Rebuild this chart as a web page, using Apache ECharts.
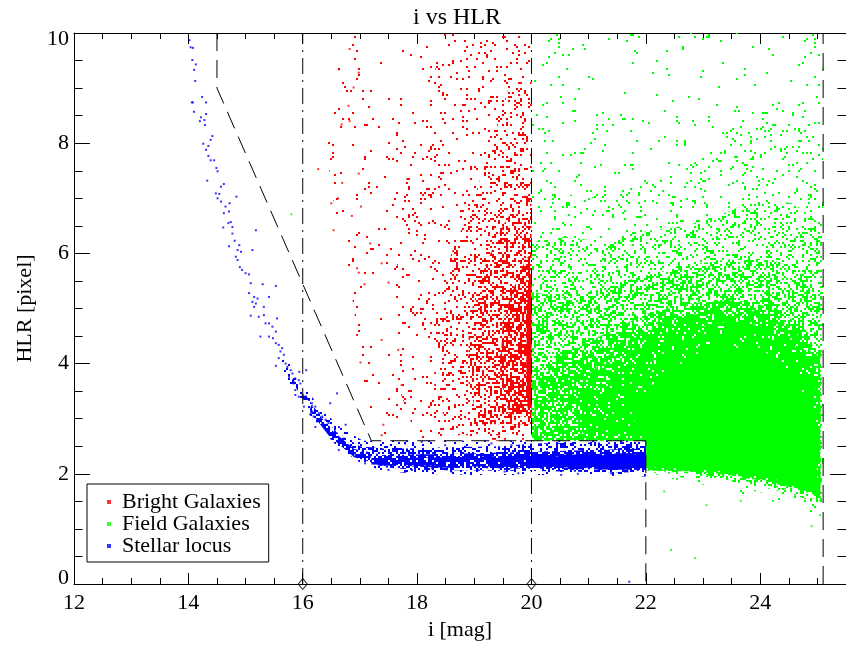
<!DOCTYPE html>
<html><head><meta charset="utf-8">
<script src="https://cdn.jsdelivr.net/npm/echarts@6/dist/echarts.min.js"></script>
<style>html,body{margin:0;padding:0;background:#fff}#c{width:846px;height:647px}</style>
</head><body><div id="c"></div><script>
// ---------- data ----------
const chartTitle = 'i vs HLR';
const xName = 'i [mag]';
const yName = 'HLR [pixel]';
const seriesNames = ['Bright Galaxies', 'Field Galaxies', 'Stellar locus'];
const seriesColors = ['#ff0000', '#00ff00', '#0000ff'];

// selection cuts
const stellarCut = [[14.5, 10], [14.5, 9], [17.2, 2.6], [22, 2.6], [22, 0]];
const faintCut = [[25.1, 0], [25.1, 10]];
const brightLimit16 = [[16, 0], [16, 10]];
const brightLimit20 = [[20, 0], [20, 10]];
const limitMarkers = [[16, 0], [20, 0]];

// density contour levels (fraction of area covered by points), outer -> inner
const brightLevels = [0.02, 0.06, 0.17, 0.38, 0.65, 1];
const brightContours = [
  [[17.3,2.6],[17.0,3.6],[16.9,5.0],[16.6,6.5],[16.4,8.0],[16.6,9.4],[16.9,10],[20,10],[20,2.6]],
  [[18.0,2.62],[17.7,3.5],[17.6,5.0],[17.7,6.5],[17.9,8.0],[18.3,9.3],[18.6,10],[20,10],[20,2.62]],
  [[18.6,2.7],[18.3,3.5],[18.3,4.8],[18.6,6.0],[19.0,7.0],[19.3,8.0],[19.6,9.0],[20,9.2],[20,2.7]],
  [[19.1,2.9],[18.9,3.6],[18.9,4.8],[19.2,5.8],[19.5,6.5],[19.8,7.0],[20,7.1],[20,2.9]],
  [[19.6,3.1],[19.45,3.8],[19.5,4.8],[19.7,5.4],[19.9,5.9],[20,6.0],[20,3.0]],
  [[19.93,3.2],[19.91,4.0],[19.92,5.0],[19.96,5.6],[20,5.6],[20,3.2]]
];
const fieldLevels = [0.02, 0.06, 0.2, 0.45, 0.72, 0.87, 0.95, 1];
const fieldContours = [
  [[20,2.6],[20,10],[25.1,10],[25.1,1.15],[24.7,1.35],[24.2,1.5],[23.6,1.65],[23,1.8],[22.5,1.9],[22,1.95],[22,2.6]],
  [[20,2.6],[20,7.2],[21,7.0],[22,7.3],[22.8,7.6],[23.5,8.3],[24.2,8.8],[24.8,8.6],[25.1,8.2],[25.1,1.3],[24.7,1.48],[24.2,1.62],[23.6,1.75],[23,1.88],[22.5,1.95],[22,2.0],[22,2.6]],
  [[20,2.6],[20,6.2],[20.6,6.3],[21.3,6.2],[22,6.4],[22.7,6.5],[23.3,6.7],[24,7.0],[24.6,6.9],[25.08,6.5],[25.08,1.42],[24.7,1.58],[24.2,1.72],[23.6,1.84],[23,1.95],[22.5,2.0],[22,2.03],[22,2.6]],
  [[20,2.6],[20,5.3],[20.6,5.2],[21.3,5.4],[22,5.6],[22.8,5.8],[23.5,5.9],[24.2,5.9],[24.8,5.6],[25.06,5.1],[25.06,1.5],[24.6,1.68],[24,1.82],[23.4,1.93],[22.8,2.0],[22.2,2.05],[22,2.06],[22,2.6]],
  [[20.05,2.6],[20.05,3.6],[20.5,4.1],[21.2,4.5],[22,4.9],[22.8,5.1],[23.6,5.15],[24.3,5.0],[24.8,4.6],[25.05,4.0],[25.05,1.58],[24.6,1.74],[24,1.88],[23.4,1.98],[22.8,2.04],[22,2.08],[22,2.6]],
  [[22,2.06],[22,2.6],[21.0,2.62],[20.7,3.0],[20.9,3.7],[21.5,4.3],[22.3,4.75],[23.1,4.95],[23.9,4.95],[24.5,4.7],[24.9,4.2],[25.05,3.5],[25.05,1.6],[24.6,1.75],[24,1.9],[23.4,1.99],[22.8,2.04]],
  [[22,2.08],[22,2.6],[21.3,2.65],[21.1,3.0],[21.3,3.6],[21.9,4.15],[22.6,4.55],[23.3,4.75],[24.0,4.7],[24.5,4.45],[24.9,3.9],[25.04,3.2],[25.05,1.62],[24.6,1.77],[24,1.91],[23.4,2.0],[22.8,2.05]],
  [[22,2.12],[22,2.6],[21.8,2.8],[21.8,3.3],[22.3,3.8],[22.9,4.15],[23.5,4.3],[24.1,4.2],[24.6,3.8],[24.9,3.1],[24.98,2.3],[25.0,1.7],[24.6,1.82],[24,1.96],[23.4,2.04],[22.8,2.09]]
];
const stellarLevels = [0.12, 0.4, 0.75, 0.92, 1];
const stellarContours = [
  [[15.65,4.2],[15.95,3.7],[16.3,3.2],[16.65,2.85],[17.05,2.6],[22,2.6],[22,1.95],[21,1.97],[20,1.98],[19,1.98],[18,2.0],[17.4,2.05],[17.0,2.2],[16.6,2.5],[16.2,2.95],[15.9,3.4],[15.55,4.0]],
  [[15.85,3.75],[16.2,3.2],[16.6,2.75],[17.0,2.5],[17.5,2.45],[18.5,2.48],[19.5,2.5],[20,2.55],[22,2.58],[22,2.02],[20,2.05],[18,2.07],[17.4,2.12],[16.9,2.35],[16.5,2.7],[16.1,3.2],[15.8,3.7]],
  [[16.15,3.25],[16.5,2.8],[16.9,2.45],[17.4,2.34],[18.5,2.36],[20,2.4],[22,2.46],[22,2.07],[20,2.09],[18.5,2.11],[17.4,2.15],[16.9,2.3],[16.45,2.7],[16.12,3.15]],
  [[17.2,2.28],[18.5,2.3],[20,2.33],[22,2.38],[22,2.1],[20,2.12],[18.5,2.14],[17.2,2.17]],
  [[19.9,2.3],[22,2.36],[22,2.12],[19.9,2.13]]
];

const stellarPoints = [
  [14.02,9.87],[14.04,9.74],[14.08,9.73],[14.07,9.51],[14.13,9.43],[14.10,9.33],[14.12,9.13],[14.24,8.84],
  [14.06,8.74],[14.08,8.74],[14.31,8.74],[14.10,8.57],[14.22,8.47],[14.28,8.42],[14.31,8.53],[14.20,8.40],
  [14.29,8.33],[14.42,8.13],[14.39,8.06],[14.26,7.99],[14.35,7.95],[14.31,7.88],[14.35,7.77],[14.39,7.69],
  [14.45,7.69],[14.49,7.55],[14.51,7.49],[14.33,7.32],[14.62,7.26],[14.57,7.21],[14.48,7.09],[14.54,7.08],
  [14.51,7.00],[14.57,6.94],[14.84,7.03],[14.72,6.91],[14.65,6.85],[14.71,6.76],[14.62,6.73],[14.74,6.57],
  [14.70,6.55],[14.77,6.48],[14.61,6.47],[14.77,6.36],[15.18,6.42],[14.81,6.23],[14.89,6.15],[14.86,6.06],
  [14.71,6.13],[15.12,6.06],[14.92,6.03],[14.83,5.94],[14.86,5.88],[14.90,5.75],[14.94,5.70],[15.00,5.64],
  [15.06,5.62],[15.09,5.46],[15.30,5.44],[15.53,5.41],[15.06,5.28],[15.15,5.21],[15.21,5.18],[15.18,5.09],
  [15.12,5.12],[15.15,5.03],[15.41,5.21],[15.32,5.03],[15.09,4.87],[15.23,4.85],[15.32,4.88],[15.35,4.73],
  [15.41,4.73],[15.26,4.49],[15.47,4.67],[15.53,4.58],[15.41,4.49],[15.55,4.82],[15.48,4.46],[15.53,4.37],
  [15.58,4.34],[15.64,4.28],[15.61,4.22],[15.67,4.16],[15.58,4.10],[15.70,4.00],[15.53,3.96],[15.73,3.94],
  [15.79,3.88],[15.82,3.82],[15.76,3.76],[15.87,3.73],[15.93,3.70],[15.84,3.64],[15.96,3.64],[15.87,3.52],
  [15.94,3.85],[16.06,3.88],[16.00,3.43],[16.05,3.40],[16.11,3.34],[16.16,3.28],[16.22,3.22],[16.14,3.10],
  [16.19,3.04],[16.28,3.10],[16.34,3.04],[16.40,2.98],[16.25,2.95],[16.22,2.85],[16.37,2.89],[16.45,2.92],
  [15.93,3.40],[16.02,3.22],[15.84,3.67],[15.87,3.43],[16.05,3.40],[16.17,3.13],[16.48,3.28],[16.60,3.46],
  [16.34,2.92],[16.51,2.73],[16.75,2.89],[16.72,2.64],[16.80,2.49],[17.04,2.40],[17.09,2.19],[17.33,2.13],
  [17.50,2.07],[17.91,2.07],[18.26,2.10],[18.60,2.04],[19.07,2.07],[19.53,2.04],[19.77,2.01],[20.52,1.98],
  [20.81,2.00],[21.39,2.01],[21.68,2.04],[21.86,2.07],[17.79,2.55],[18.08,2.58],[18.49,2.52],[18.84,2.49],
  [19.30,2.55],[19.65,2.52],[17.62,2.46],[17.18,2.31],[16.92,2.34],[16.63,2.43],[21.71,0.04]
];
const brightPoints = [
  [16.27,7.53],[16.63,9.34],[16.82,9.71],[16.68,8.34],[16.69,7.28],[16.54,6.42],[16.50,6.91],[16.98,9.28],
  [16.89,9.01],[16.80,8.68],[16.82,8.40],[16.86,6.68],[16.98,7.45],[17.02,6.85],[16.62,7.00],[16.95,5.73],
  [16.98,5.65],[17.08,5.44],[17.01,4.02],[17.18,6.18],[17.38,5.82],[17.38,4.43],[17.50,5.47],[17.67,4.25],
  [17.73,3.61],[17.38,2.70],[17.41,2.89]
];
const fieldPoints = [
  [22.32,1.68],[23.06,1.43],[23.66,1.51],[24.90,1.05],[22.44,0.62],[22.86,0.47],[25.05,1.25],[15.80,6.71]
];

// ---------- rendering ----------
const FONT = '"Liberation Serif", Tinos, "Times New Roman", serif';
const tText = (size) => ({ fontFamily: FONT, fontSize: size, color: '#000', fontWeight: 'normal' });

// speckle texture used to paint the density regions (pure styling)
function speckleStream(seed) {
  let a = seed | 0;
  return function () {
    a = (a + 0x6D2B79F5) | 0;
    let t = Math.imul(a ^ (a >>> 15), 1 | a);
    t = (t + Math.imul(t ^ (t >>> 7), 61 | t)) ^ t;
    return ((t ^ (t >>> 14)) >>> 0) / 4294967296;
  };
}
function speckleTexture(color, coverage, seed) {
  const size = 256, cell = 2, n = size / cell;
  const next = speckleStream(seed);
  const c = document.createElement('canvas');
  c.width = size; c.height = size;
  const ctx = c.getContext('2d');
  ctx.fillStyle = color;
  for (let j = 0; j < n; j++)
    for (let i = 0; i < n; i++)
      if (next() < coverage) ctx.fillRect(i * cell, j * cell, cell, cell);
  return c;
}
function densitySeries(name, color, contours, levels, seed) {
  const fills = levels.map(c => c >= 1 ? color : { image: speckleTexture(color, c, seed), repeat: 'repeat' });
  return {
    name, type: 'custom', coordinateSystem: 'cartesian2d', xAxisIndex: 0, yAxisIndex: 0,
    z: 1, silent: true, itemStyle: { color },
    data: contours.map((_, k) => ({ value: [k] })),
    renderItem: (params, api) => ({
      type: 'polygon', silent: true,
      shape: { points: contours[params.dataIndex].map(p => api.coord(p)) },
      style: { fill: fills[params.dataIndex] }
    })
  };
}
function pointSeries(name, color, pts) {
  return { name, type: 'scatter', xAxisIndex: 0, yAxisIndex: 0, z: 2, symbol: 'rect', symbolSize: 2,
    itemStyle: { color }, data: pts, clip: false, silent: true };
}
function cutLine(pts, dash) {
  return { type: 'line', xAxisIndex: 0, yAxisIndex: 0, z: 3, symbol: 'none', silent: true, data: pts,
    lineStyle: { color: '#000', width: 1, type: dash }, clip: false };
}

const xMajor = (pos, labels) => ({
  type: 'value', position: pos, min: 12, max: 25.5, interval: 2,
  axisLine: { show: true, onZero: false, lineStyle: { color: '#000', width: 1 } },
  axisTick: { show: true, inside: true, length: 11, lineStyle: { color: '#000', width: 1 } },
  axisLabel: labels ? Object.assign({ show: true, margin: 8, showMaxLabel: false }, tText(22)) : { show: false },
  splitLine: { show: false },
  name: labels ? xName : '', nameLocation: 'middle', nameGap: 35, nameTextStyle: tText(22)
});
const xMinor = (pos) => ({
  type: 'value', position: pos, min: 12, max: 25.5, interval: 0.5,
  axisLine: { show: false, onZero: false },
  axisTick: { show: true, inside: true, length: 6, lineStyle: { color: '#000', width: 1 } },
  axisLabel: { show: false }, splitLine: { show: false }
});
const yAxisDef = (pos, labels) => ({
  type: 'value', position: pos, min: 0, max: 10, interval: 2,
  axisLine: { show: true, onZero: false, lineStyle: { color: '#000', width: 1 } },
  axisTick: { show: true, inside: true, length: 16, lineStyle: { color: '#000', width: 1 } },
  minorTick: { show: true, splitNumber: 4, length: 8.5, lineStyle: { color: '#000', width: 1 } },
  axisLabel: labels ? Object.assign({
    show: true, margin: 5,
    formatter: v => v === 0 ? '{lo|0}' : (v === 10 ? '{hi|10}' : String(v)),
    rich: { lo: Object.assign({ padding: [0, 0, 12, 0] }, tText(22)), hi: Object.assign({ padding: [12, 0, 0, 0] }, tText(22)) }
  }, tText(22)) : { show: false },
  splitLine: { show: false },
  name: labels ? yName : '', nameLocation: 'middle', nameGap: 34, nameRotate: 90, nameTextStyle: tText(22)
});

const chart = echarts.init(document.getElementById('c'), null, { renderer: 'canvas' });
chart.setOption({
  animation: false,
  backgroundColor: '#fff',
  title: { text: chartTitle, left: 408, top: 1, textStyle: tText(24) },
  grid: { left: 74, top: 33, width: 775, height: 551, containLabel: false },
  xAxis: [xMajor('bottom', true), xMinor('bottom'), xMajor('top', false), xMinor('top')],
  yAxis: [yAxisDef('left', true), yAxisDef('right', false)],
  legend: {
    orient: 'vertical', left: 87, top: 484,
    padding: [7, 8, 5, 20], itemGap: 0, itemWidth: 4, itemHeight: 4,
    backgroundColor: '#fff', borderColor: '#000', borderWidth: 1, borderRadius: 0,
    textStyle: Object.assign({ lineHeight: 22, padding: [0, 0, 0, 6] }, tText(22)),
    data: seriesNames.map(n => ({ name: n, icon: 'rect' })), selectedMode: false
  },
  series: [
    pointSeries(seriesNames[0], seriesColors[0], brightPoints),
    pointSeries(seriesNames[1], seriesColors[1], fieldPoints),
    pointSeries(seriesNames[2], seriesColors[2], stellarPoints),
    densitySeries(seriesNames[0], seriesColors[0], brightContours, brightLevels, 11),
    densitySeries(seriesNames[1], seriesColors[1], fieldContours, fieldLevels, 23),
    densitySeries(seriesNames[2], seriesColors[2], stellarContours, stellarLevels, 37),
    cutLine(stellarCut, [18, 9]),
    cutLine(faintCut, [18, 9]),
    cutLine(brightLimit16, [16, 6, 2, 6]),
    cutLine(brightLimit20, [16, 6, 2, 6]),
    { type: 'scatter', xAxisIndex: 0, yAxisIndex: 0, z: 4, symbol: 'diamond', symbolSize: [9, 11], clip: false, silent: true,
      itemStyle: { color: 'rgba(0,0,0,0)', borderColor: '#000', borderWidth: 1 }, data: limitMarkers }
  ]
});
</script></body></html>
